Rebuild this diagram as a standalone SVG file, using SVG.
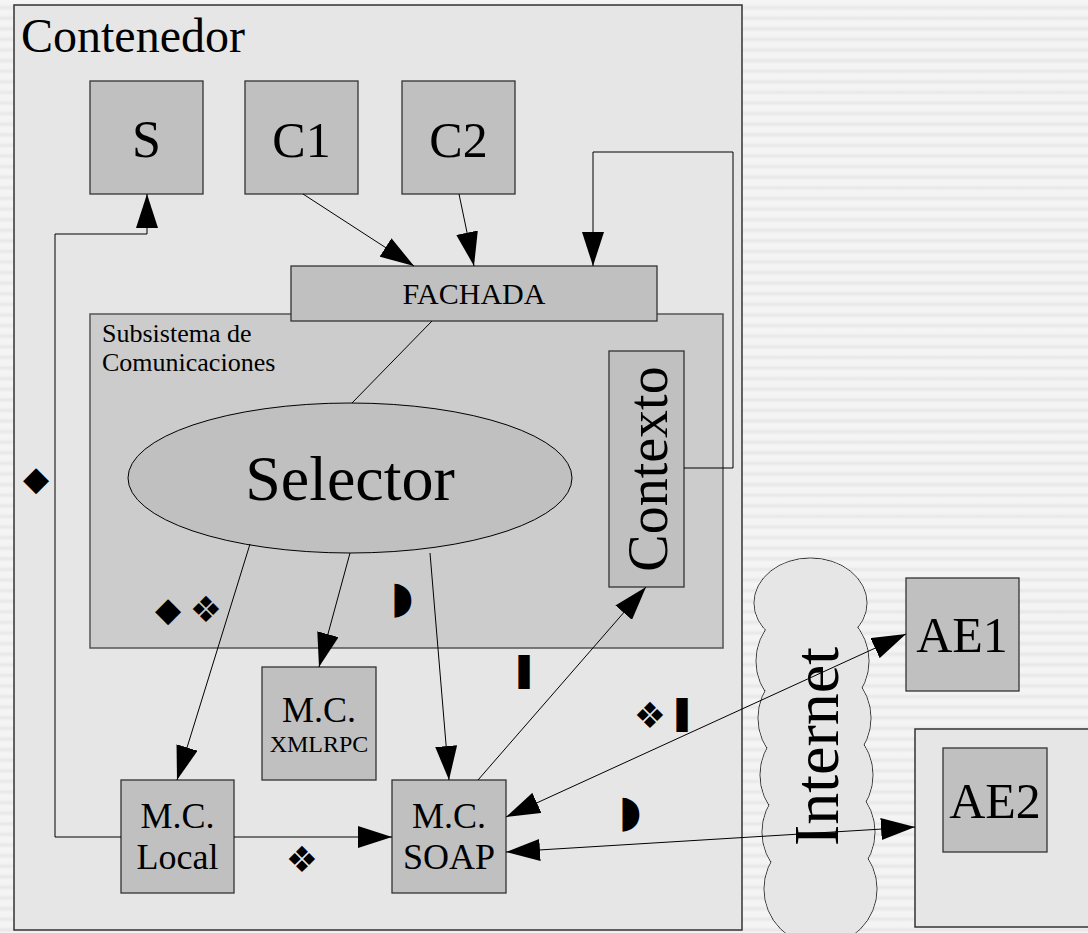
<svg xmlns="http://www.w3.org/2000/svg" width="1088" height="933" viewBox="0 0 1088 933">
  <defs>
    <linearGradient id="band" x1="0" y1="0" x2="0" y2="1">
      <stop offset="0" stop-color="#f5f5f5"/>
      <stop offset="0.45" stop-color="#f3f3f3"/>
      <stop offset="0.7" stop-color="#e7e7e7"/>
      <stop offset="1" stop-color="#f3f3f3"/>
    </linearGradient>
    <pattern id="stripes" width="20" height="10.6" patternUnits="userSpaceOnUse">
      <rect width="20" height="10.6" fill="url(#band)"/>
    </pattern>
    <marker id="ah" viewBox="0 0 34 22" refX="34" refY="11" markerWidth="34" markerHeight="22" markerUnits="userSpaceOnUse" orient="auto-start-reverse">
      <path d="M0,0 L34,11 L0,22 z" fill="#000"/>
    </marker>
  </defs>
  <style>
    .frame { fill: #e6e6e6; stroke: #333; stroke-width: 1.5; }
    .sub { fill: #cccccc; stroke: #555; stroke-width: 1.5; }
    .box { fill: #c0c0c0; stroke: #333; stroke-width: 1.3; }
    .cloud { fill: #e6e6e6; stroke: #333; stroke-width: 1; }
    .t { font-family: "Liberation Serif", "Times New Roman", serif; fill: #000; }
    .mid { text-anchor: middle; }
    .sym { font-family: "DejaVu Sans", sans-serif; fill: #000; text-anchor: middle; }
    .con { fill: none; stroke: #000; stroke-width: 1; }
    .arr { marker-end: url(#ah); }
    .both { marker-start: url(#ah); marker-end: url(#ah); }
  </style>

  <!-- striped page background -->
  <rect width="1088" height="933" fill="url(#stripes)"/>

  <!-- outer container -->
  <g id="contenedor">
    <rect class="frame" x="14" y="5" width="728" height="925"/>
    <text class="t" x="21" y="52" font-size="48">Contenedor</text>
  </g>

  <!-- communications subsystem -->
  <g id="subsistema">
    <rect class="sub" x="90" y="314" width="633" height="334"/>
    <text class="t" font-size="26"><tspan x="102" y="342">Subsistema de</tspan><tspan x="102" y="371">Comunicaciones</tspan></text>
  </g>

  <g id="nodo-s">
    <rect class="box" x="90" y="81" width="113" height="113"/>
    <text class="t mid" x="146.5" y="157" font-size="52">S</text>
  </g>
  <g id="nodo-c1">
    <rect class="box" x="245" y="81" width="113" height="113"/>
    <text class="t mid" x="301.5" y="157" font-size="50">C1</text>
  </g>
  <g id="nodo-c2">
    <rect class="box" x="402" y="81" width="113" height="113"/>
    <text class="t mid" x="458.5" y="157" font-size="50">C2</text>
  </g>

  <g id="fachada">
    <rect class="box" x="291" y="266" width="366" height="55"/>
    <text class="t mid" x="474" y="304" font-size="30">FACHADA</text>
  </g>

  <g id="contexto">
    <rect class="box" x="609" y="351" width="75" height="236"/>
    <text class="t mid" transform="translate(667,469) rotate(-90)" font-size="56">Contexto</text>
  </g>

  <g id="selector">
    <ellipse cx="350" cy="478" rx="222" ry="75" fill="#c0c0c0" stroke="#000" stroke-width="1"/>
    <text class="t mid" x="350" y="500" font-size="64">Selector</text>
  </g>

  <g id="mc-xmlrpc">
    <rect class="box" x="262" y="667" width="114" height="113"/>
    <text class="t mid" x="319" y="722" font-size="36">M.C.</text>
    <text class="t mid" x="319" y="752" font-size="24">XMLRPC</text>
  </g>

  <g id="mc-local">
    <rect class="box" x="121" y="780" width="113" height="113"/>
    <text class="t mid" x="177.5" y="828" font-size="36">M.C.</text>
    <text class="t mid" x="177.5" y="869" font-size="36">Local</text>
  </g>

  <g id="mc-soap">
    <rect class="box" x="392" y="780" width="114" height="113"/>
    <text class="t mid" x="449" y="828" font-size="36">M.C.</text>
    <text class="t mid" x="449" y="869" font-size="36">SOAP</text>
  </g>

  <!-- Internet cloud: stacked circles, outline pass then fill pass -->
  <g id="internet">
    <g class="cloud">
      <ellipse cx="810.5" cy="603" rx="56.5" ry="45"/>
      <circle cx="812.5" cy="661" r="56.5"/>
      <circle cx="814.5" cy="718" r="56.5"/>
      <circle cx="816.5" cy="775" r="56.5"/>
      <circle cx="818.5" cy="832" r="56.5"/>
      <circle cx="820.5" cy="889" r="56.5"/>
    </g>
    <g fill="#e6e6e6">
      <ellipse cx="810.5" cy="603" rx="55.8" ry="44.3"/>
      <circle cx="812.5" cy="661" r="55.8"/>
      <circle cx="814.5" cy="718" r="55.8"/>
      <circle cx="816.5" cy="775" r="55.8"/>
      <circle cx="818.5" cy="832" r="55.8"/>
      <circle cx="820.5" cy="889" r="55.8"/>
    </g>
    <text class="t mid" transform="translate(838,746.5) rotate(-90)" font-size="64">Internet</text>
  </g>

  <g id="ae1">
    <rect class="box" x="906" y="578" width="113" height="113"/>
    <text class="t mid" x="962" y="652" font-size="50">AE1</text>
  </g>

  <g id="ae2">
    <rect class="frame" x="915" y="729" width="180" height="198"/>
    <rect class="box" x="943" y="748" width="104" height="104"/>
    <text class="t mid" x="995" y="818" font-size="50">AE2</text>
  </g>

  <!-- connectors -->
  <g id="conectores">
    <path class="con arr" d="M121,837 H55 V234 H147 V194"/>
    <path class="con arr" d="M303,194 L414,266"/>
    <path class="con arr" d="M459,194 L474,266"/>
    <path class="con arr" d="M684,468 H733 V152 H593 V266"/>
    <path class="con" d="M432,321 L352,403"/>
    <path class="con arr" d="M250,544 L177,780"/>
    <path class="con arr" d="M350,553 L319,667"/>
    <path class="con arr" d="M430,553 L449,780"/>
    <path class="con arr" d="M478,780 L646,587"/>
    <path class="con arr" d="M234,837 L392,837"/>
    <path class="con both" d="M506,817 L906,634"/>
    <path class="con both" d="M506,852 L915,827"/>
  </g>

  <!-- protocol symbols -->
  <g id="simbolos">
    <text class="sym" x="36" y="490" font-size="34">◆</text>
    <text class="sym" x="168" y="621" font-size="34">◆</text>
    <text class="sym" x="206" y="622" font-size="36">❖</text>
    <text class="sym" x="302" y="872" font-size="36">❖</text>
    <text class="sym" x="650" y="728" font-size="36">❖</text>
    <text class="sym" x="402" y="612" font-size="44">◗</text>
    <text class="sym" x="630" y="826" font-size="44">◗</text>
    <text class="sym" x="524" y="681" font-size="34">❚</text>
    <text class="sym" x="682" y="724" font-size="34">❚</text>
  </g>
</svg>
